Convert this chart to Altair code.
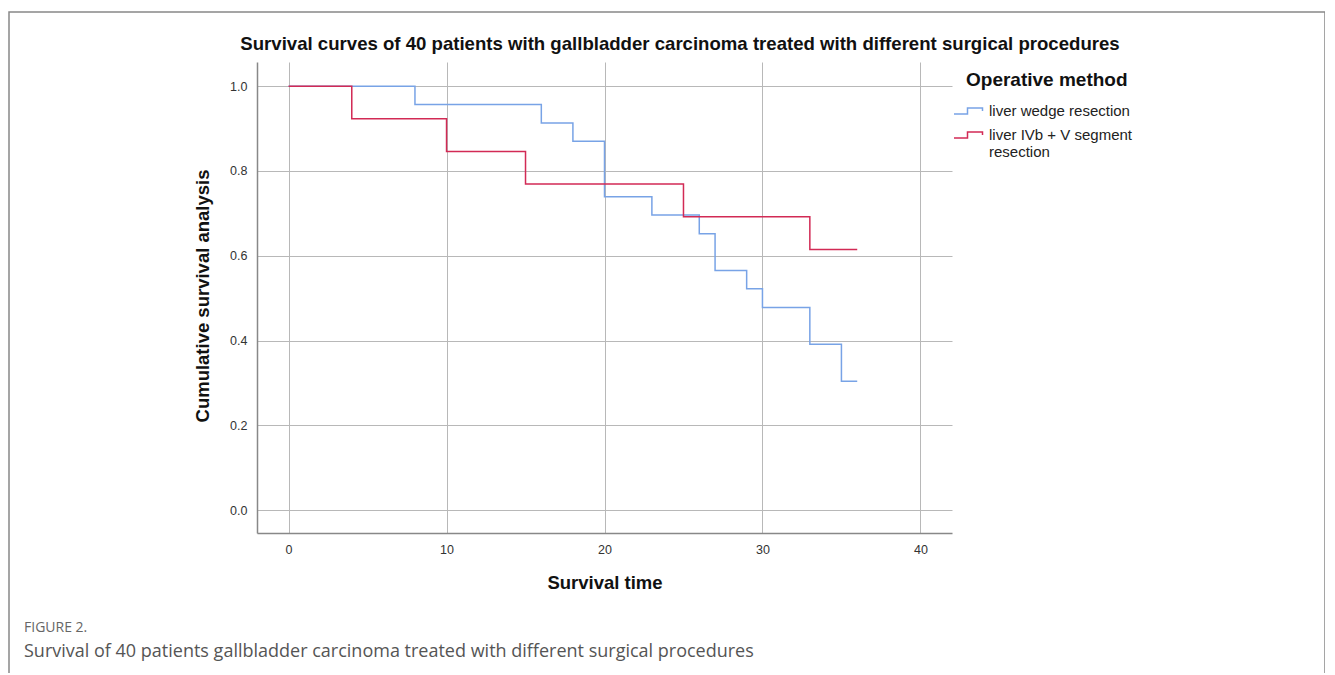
import altair as alt
import pandas as pd

# ---- data ----
wedge_time = [0, 8, 16, 18, 20, 23, 26, 27, 29, 30, 33, 35, 36]
wedge_surv = [1.0, 0.957, 0.913, 0.870, 0.739, 0.696, 0.652, 0.565, 0.522, 0.478, 0.391, 0.304, 0.304]
seg_time = [0, 4, 10, 15, 25, 33, 36]
seg_surv = [1.0, 0.923, 0.846, 0.769, 0.692, 0.615, 0.615]
groups = ["liver wedge resection", "liver IVb + V  segment resection"]
colors = ["#78a3e6", "#d22a55"]
x_ticks = [0, 10, 20, 30, 40]
y_ticks = [0.0, 0.2, 0.4, 0.6, 0.8, 1.0]

title_text = "Survival curves of 40 patients with gallbladder carcinoma treated with different surgical procedures"
legend_title = "Operative method"
fig_label = "FIGURE 2."
caption = "Survival of 40 patients gallbladder carcinoma treated with different surgical procedures"

df = pd.concat([
    pd.DataFrame({"time": wedge_time, "surv": wedge_surv, "group": groups[0], "ord": range(len(wedge_time))}),
    pd.DataFrame({"time": seg_time, "surv": seg_surv, "group": groups[1], "ord": range(len(seg_time))}),
])

FONT = "Liberation Sans"
W, H = 695, 471

step_path = "M-1,0.2H-0.1V-0.2H0.9V0"

lines = alt.Chart(df).mark_line(interpolate="step-after", strokeWidth=1.5).encode(
    x=alt.X("time:Q", scale=alt.Scale(domain=[-2, 42], nice=False, zero=False),
            axis=alt.Axis(values=x_ticks, title="Survival time", titleX=W / 2, titleY=49,
                          titleBaseline="middle", labelPadding=10, format="d")),
    y=alt.Y("surv:Q", scale=alt.Scale(domain=[-0.054, 1.057], nice=False, zero=False),
            axis=alt.Axis(values=y_ticks, title="Cumulative survival analysis", format=".1f",
                          titleX=-55, titleY=H / 2 - 2, titleBaseline="middle", labelPadding=10)),
    color=alt.Color("group:N", scale=alt.Scale(domain=groups, range=colors),
                    legend=alt.Legend(orient="none", legendX=696, legendY=33, title=None,
                                      symbolType=step_path, symbolSize=900, symbolStrokeWidth=1.5,
                                      labelFont=FONT, labelFontSize=15, labelColor="#222",
                                      labelOffset=4, rowPadding=-9,
                                      labelExpr="datum.label == 'liver wedge resection' ? datum.label : ['liver IVb + V  segment', 'resection']")),
    order="ord:Q",
)

one = alt.Data(values=[{"a": 1}])

frame = alt.Chart(one).mark_rect(fillOpacity=0, stroke="#888888", strokeWidth=1.5).encode(
    x=alt.value(-248), x2=alt.value(1068), y=alt.value(-50), y2=alt.value(640))

main_title = alt.Chart(one).mark_text(text=title_text, font=FONT, fontSize=18.6, fontWeight="bold",
                                      align="center", baseline="middle", color="#111").encode(
    x=alt.value(680 - 257), y=alt.value(44 - 62))

leg_title = alt.Chart(one).mark_text(text=legend_title, font=FONT, fontSize=19, fontWeight="bold",
                                     align="left", baseline="middle", color="#111").encode(
    x=alt.value(966 - 257), y=alt.value(80 - 62))

fig_lab = alt.Chart(one).mark_text(text=fig_label, font="Open Sans", fontSize=14, align="left",
                                   baseline="middle", color="#666").encode(
    x=alt.value(24 - 257), y=alt.value(628 - 62))

cap = alt.Chart(one).mark_text(text=caption, font="Open Sans", fontSize=18, align="left",
                               baseline="middle", color="#555").encode(
    x=alt.value(24 - 257), y=alt.value(652 - 62))

chart = alt.layer(frame, lines, main_title, leg_title, fig_lab, cap).properties(
    width=W, height=H,
    autosize=alt.AutoSizeParams(type="none"),
    padding={"left": 249, "top": 54, "right": 373, "bottom": 140},
).configure_view(stroke=None).configure_axis(
    grid=True, gridColor="#b8b8b8", gridWidth=1, ticks=False,
    domainColor="#888", domainWidth=1.5,
    labelFont=FONT, labelFontSize=12.5, labelColor="#333",
    titleFont=FONT, titleFontSize=18.5, titleFontWeight="bold", titleColor="#111",
).configure_legend(symbolFillColor="transparent")

chart.save("out.html", embed_options={"renderer": "svg", "actions": False})
